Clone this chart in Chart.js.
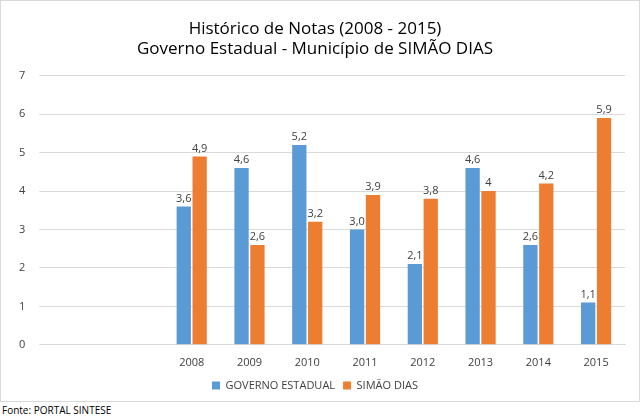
<!DOCTYPE html>
<html><head><meta charset="utf-8">
<script src="https://cdn.jsdelivr.net/npm/chart.js@4"></script>
<style>
body{margin:0;background:#fff;font-family:"Open Sans",sans-serif}
#wrap{position:absolute;left:0;top:0;width:638px;height:400px;border:1px solid #d9d9d9}
#fonte{position:absolute;left:2px;top:403px;font-size:10px;color:#000}
</style></head><body>
<div id="wrap"><canvas id="c" width="638" height="400"></canvas></div>
<div id="fonte">Fonte: PORTAL SINTESE</div>
<script>
// data
const years=["","","2008","2009","2010","2011","2012","2013","2014","2015"];
const governo=[null,null,3.6,4.6,5.2,3.0,2.1,4.6,2.6,1.1];
const simao=[null,null,4.9,2.6,3.2,3.9,3.8,4.0,4.2,5.9];
const yTicks=[0,1,2,3,4,5,6,7];

Chart.defaults.font.family="Open Sans";

const valueLabels={
id:"valueLabels",
afterDatasetsDraw(chart){
const ctx=chart.ctx;
ctx.save();
ctx.font="11px Open Sans";
ctx.fillStyle="#404040";
ctx.textAlign="center";
chart.data.datasets.forEach((ds,i)=>{
chart.getDatasetMeta(i).data.forEach((bar,j)=>{
const v=ds.data[j];
if(v==null)return;
let t=String(v).replace(".",",");
if(i==0&&Number.isInteger(v))t=v.toFixed(1).replace(".",",");
ctx.fillText(t,bar.x,bar.y-8);
});
});
ctx.restore();
}
};

new Chart(document.getElementById("c"),{
type:"bar",
data:{
labels:years,
datasets:[
{label:"GOVERNO ESTADUAL",data:governo,backgroundColor:"#5b9bd5"},
{label:"SIMÃO DIAS",data:simao,backgroundColor:"#ed7d31"}
]
},
options:{
responsive:false,
animation:false,
layout:{padding:{left:4,right:14,top:0,bottom:0}},
datasets:{bar:{categoryPercentage:0.55,barPercentage:0.9}},
plugins:{
title:{display:true,text:["Histórico de Notas (2008 - 2015)","Governo Estadual - Município de SIMÃO DIAS"],color:"#000",font:{size:17,weight:"normal"},padding:{top:18,bottom:16}},
legend:{position:"bottom",labels:{boxWidth:8,boxHeight:8,color:"#404040",font:{size:11},padding:8}},
tooltip:{enabled:false}
},
scales:{
x:{grid:{display:false},border:{color:"#d9d9d9"},ticks:{color:"#404040",font:{size:11}}},
y:{min:0,max:7,afterBuildTicks(a){a.ticks=yTicks.map(v=>({value:v}));},
grid:{color:"#d9d9d9"},border:{display:false},ticks:{color:"#404040",font:{size:11},padding:14}}
}
},
plugins:[valueLabels]
});
</script>
</body></html>
